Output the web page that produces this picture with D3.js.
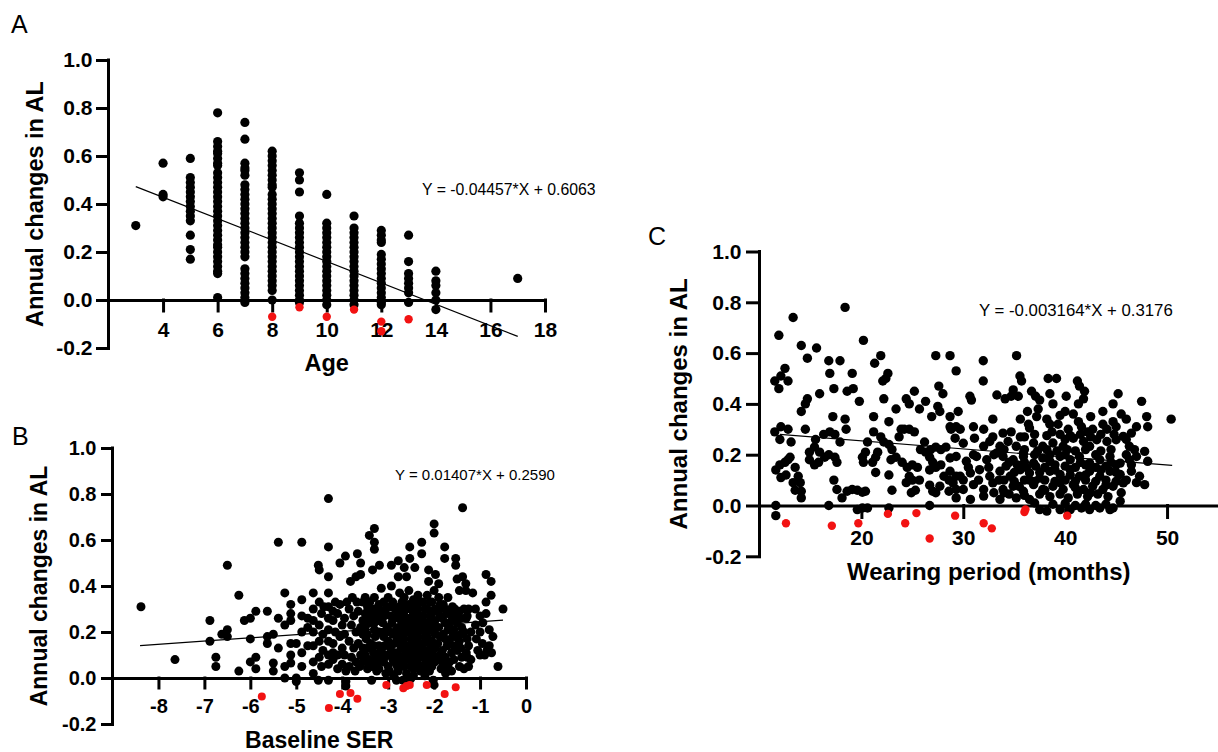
<!DOCTYPE html>
<meta charset="utf-8">
<style>
  body { margin: 0; background: #fff; }
  svg text { font-family: "Liberation Sans", Arial, sans-serif; fill: #000; }
  .axis path, .axis line { stroke: #000; stroke-width: 3; stroke-linecap: square; }
  .axis text { font-weight: bold; }
</style>
<script src="https://cdn.jsdelivr.net/npm/d3@7"></script>
<body>
<svg id="fig" width="1218" height="752"></svg>
<script>
// ---------- data ----------
const yTickValues = [-0.2, 0, 0.2, 0.4, 0.6, 0.8, 1.0];

// panel A: annual AL change stacked by age
const ageColumns = [
  [3, [0.31]],
  [4, [0.57, 0.44, 0.43]],
  [5, [0.59, 0.51, 0.49, 0.47, 0.45, 0.43, 0.41, 0.39, 0.37, 0.35, 0.33, 0.27, 0.21, 0.17]],
  [6, [0.78, 0.66, 0.64, 0.62, 0.61, 0.59, 0.57, 0.56, 0.53, 0.51, 0.49, 0.47, 0.45, 0.43, 0.41, 0.39, 0.37, 0.35,
       0.33, 0.31, 0.29, 0.27, 0.25, 0.23, 0.22, 0.20, 0.18, 0.16, 0.14, 0.12, 0.11, 0.01]],
  [7, [0.74, 0.67, 0.57, 0.55, 0.54, 0.52, 0.48, 0.46, 0.44, 0.42, 0.40, 0.38, 0.36, 0.34, 0.32, 0.30, 0.28, 0.26,
       0.24, 0.22, 0.20, 0.18, 0.13, 0.11, 0.09, 0.07, 0.05, 0.03, 0.01, -0.01]],
  [8, [0.62, 0.60, 0.58, 0.56, 0.54, 0.52, 0.50, 0.48, 0.47, 0.44, 0.42, 0.40, 0.38, 0.36, 0.34, 0.32, 0.30, 0.28,
       0.26, 0.24, 0.22, 0.20, 0.18, 0.16, 0.14, 0.12, 0.10, 0.08, 0.06, 0.04, 0.00]],
  [9, [0.53, 0.50, 0.45, 0.35, 0.32, 0.30, 0.28, 0.26, 0.24, 0.22, 0.20, 0.18, 0.16, 0.14, 0.12, 0.10, 0.08, 0.06,
       0.04, 0.02, 0.00, -0.01]],
  [10, [0.44, 0.32, 0.30, 0.28, 0.26, 0.24, 0.22, 0.20, 0.18, 0.16, 0.14, 0.12, 0.10, 0.08, 0.06, 0.04, 0.02, 0.00, -0.02]],
  [11, [0.35, 0.30, 0.28, 0.26, 0.24, 0.22, 0.20, 0.18, 0.16, 0.14, 0.12, 0.10, 0.08, 0.06, 0.04, 0.02, 0.00, -0.02]],
  [12, [0.29, 0.27, 0.25, 0.24, 0.19, 0.17, 0.15, 0.13, 0.11, 0.09, 0.07, 0.05, 0.03, 0.01, -0.01, -0.02]],
  [13, [0.27, 0.16, 0.11, 0.09, 0.07, 0.05, 0.03, -0.01]],
  [14, [0.12, 0.08, 0.06, 0.03, 0.00, -0.04]],
  [17, [0.09]]
];
const ageRed = [[8, -0.07], [9, -0.03], [10, -0.07], [11, -0.04], [12, -0.09], [12, -0.13], [13, -0.08]];

// panel B: baseline SER vs annual AL change
const serBlack = [
  [-8.38,0.31],[-7.64,0.08],[-6.88,0.25],[-6.88,0.16],[-6.75,0.09],[-6.75,0.05],[-6.5,0.49],[-6.62,0.19],[-6.5,0.21],
  [-6.5,0.18],[-6.25,0.36],[-6.25,0.03],[-6.13,0.25],[-6.0,0.26],[-5.88,0.29],[-6.0,0.17],[-6.0,0.07],[-5.88,0.09],
  [-5.88,0.04],[-5.63,0.29],[-5.39,0.59],[-4.88,0.59],[-5.25,0.37],[-5.63,0.18],[-5.63,0.15],[-5.5,0.19],[-5.39,0.13],
  [-5.5,0.065],[-5.5,0.03],[-5.25,0.05],[-5.25,0.0],[-5.39,0.26],[-5.25,0.23],[-5.12,0.32],[-5.12,0.28],[-5.12,0.25],
  [-5.12,0.15],[-5.12,0.10],[-5.12,0.065],[-5.0,0.15],[-5.0,0.0],[-5.0,-0.015],[-4.88,0.34],[-4.88,0.27],[-4.88,0.2],
  [-4.88,0.11],[-4.88,0.05],[-4.75,0.26],[-4.75,0.22],[-4.75,0.14],[-4.63,0.37],[-4.63,0.30],[-4.63,0.25],[-4.63,0.20],
  [-4.63,0.14],[-4.63,0.07],[-4.63,0.02],[-4.52,0.49],[-4.5,0.47],[-4.5,0.33],[-4.45,0.28],[-4.5,0.23],[-4.42,0.19],
  [-4.5,0.16],[-4.42,0.12],[-4.5,0.09],[-4.45,0.05],[-4.52,-0.01],[-4.3,0.78],[-4.3,0.57],[-4.3,0.44],[-4.3,0.37],
  [-4.3,0.31],[-4.3,0.26],[-4.3,0.21],[-4.3,0.16],[-4.3,0.10],[-4.3,0.06],[-4.3,-0.01],
  [-4.05,0.50],[-3.93,0.53],[-4.15,0.33],[-4.05,0.32],[-4.1,0.28],[-4.2,0.25],[-4.0,0.23],[-4.15,0.2],[-4.05,0.18],
  [-4.2,0.15],[-4.0,0.13],[-4.1,0.1],[-4.2,0.08],[-4.0,0.06],[-3.92,0.03],[-4.1,0.04],[-3.92,-0.015],[-3.92,-0.035],
  [-3.82,0.42],[-3.7,0.44],[-3.6,0.45],[-3.67,0.54],[-3.6,0.50],[-3.85,0.30],[-3.75,0.27],[-3.65,0.29],[-3.8,0.23],
  [-3.7,0.2],[-3.6,0.22],[-3.85,0.16],[-3.75,0.13],[-3.65,0.15],[-3.8,0.09],[-3.7,0.07],[-3.6,0.1],[-3.85,0.05],
  [-3.72,0.03],[-3.62,0.05],
  [-3.41,0.62],[-3.3,0.65],[-3.3,0.59],[-3.3,0.56],[-3.34,0.47],[-3.19,0.49],[-3.5,0.35],[-3.4,0.33],[-3.3,0.35],
  [-3.2,0.32],[-3.5,0.28],[-3.42,0.3],[-3.35,0.27],[-3.25,0.29],[-3.5,0.22],[-3.4,0.24],[-3.3,0.21],[-3.22,0.25],
  [-3.48,0.17],[-3.38,0.15],[-3.28,0.18],[-3.2,0.14],[-3.5,0.1],[-3.42,0.08],[-3.32,0.11],[-3.22,0.07],[-3.45,0.04],
  [-3.35,0.05],[-3.25,0.03],[-3.36,-0.01],
  [-3.15,0.39],[-2.93,0.49],[-2.78,0.51],[-2.93,0.40],[-3.1,0.33],[-3.0,0.35],[-2.9,0.33],[-3.15,0.29],[-3.05,0.3],
  [-2.95,0.27],[-2.85,0.3],[-3.12,0.24],[-3.02,0.22],[-2.92,0.24],[-2.82,0.21],[-3.1,0.18],[-3.0,0.16],[-2.9,0.19],
  [-2.8,0.17],[-3.15,0.12],[-3.05,0.1],[-2.95,0.13],[-2.85,0.11],[-3.1,0.07],[-3.0,0.05],[-2.9,0.08],[-2.8,0.05],
  [-3.05,0.02],[-2.88,0.01],[-2.82,-0.01],
  [-2.65,0.48],[-2.6,0.44],[-2.78,0.44],[-2.53,0.57],[-2.53,0.52],[-2.42,0.48],[-2.75,0.37],[-2.65,0.35],[-2.55,0.38],
  [-2.45,0.34],[-2.75,0.31],[-2.65,0.29],[-2.55,0.32],[-2.45,0.28],[-2.72,0.25],[-2.62,0.23],[-2.52,0.26],[-2.42,0.22],
  [-2.75,0.19],[-2.65,0.17],[-2.55,0.2],[-2.45,0.16],[-2.72,0.13],[-2.62,0.11],[-2.52,0.14],[-2.42,0.1],[-2.75,0.07],
  [-2.65,0.05],[-2.55,0.08],[-2.45,0.04],[-2.6,0.02],[-2.5,0.0],[-2.68,-0.01],[-2.55,-0.02],[-2.45,0.01],
  [-2.27,0.59],[-2.27,0.54],[-2.12,0.47],[-2.12,0.42],[-2.0,0.38],[-2.0,0.67],[-2.0,0.63],[-2.35,0.36],[-2.25,0.33],
  [-2.15,0.36],[-2.05,0.33],[-2.35,0.3],[-2.25,0.27],[-2.15,0.3],[-2.05,0.28],[-2.32,0.24],[-2.22,0.21],[-2.12,0.24],
  [-2.02,0.22],[-2.35,0.18],[-2.25,0.15],[-2.15,0.18],[-2.05,0.16],[-2.32,0.12],[-2.22,0.09],[-2.12,0.12],[-2.02,0.1],
  [-2.35,0.06],[-2.25,0.04],[-2.15,0.07],[-2.05,0.05],[-2.2,0.01],[-2.02,-0.01],[-2.0,-0.03],
  [-1.97,0.45],[-1.9,0.41],[-1.77,0.57],[-1.77,0.52],[-1.9,0.35],[-1.8,0.32],[-1.7,0.35],[-1.6,0.31],[-1.92,0.29],
  [-1.82,0.26],[-1.72,0.28],[-1.62,0.25],[-1.9,0.22],[-1.8,0.19],[-1.7,0.21],[-1.6,0.18],[-1.92,0.15],[-1.82,0.12],
  [-1.72,0.14],[-1.62,0.11],[-1.9,0.08],[-1.8,0.06],[-1.7,0.05],[-1.62,0.03],[-1.75,0.02],[-1.85,0.04],
  [-1.53,0.52],[-1.53,0.49],[-1.38,0.74],[-1.38,0.44],[-1.31,0.41],[-1.31,0.38],[-1.16,0.37],[-1.5,0.43],[-1.45,0.38],
  [-1.55,0.3],[-1.45,0.29],[-1.35,0.3],[-1.25,0.3],[-1.5,0.24],[-1.4,0.22],[-1.3,0.26],[-1.2,0.2],[-1.55,0.18],
  [-1.45,0.16],[-1.35,0.2],[-1.25,0.14],[-1.5,0.12],[-1.4,0.09],[-1.3,0.11],[-1.2,0.08],[-1.45,0.05],[-1.35,0.04],
  [-1.25,0.05],
  [-0.87,0.45],[-0.76,0.42],[-0.76,0.36],[-0.5,0.30],[-0.87,0.33],[-0.87,0.28],[-0.94,0.24],[-0.8,0.21],[-0.72,0.18],
  [-0.61,0.05],[-1.1,0.3],[-1.0,0.27],[-1.1,0.23],[-1.0,0.2],[-1.08,0.17],[-0.95,0.15],[-1.05,0.12],[-0.85,0.12],
  [-0.8,0.14],[-1.0,0.1],[-0.9,0.1],[-0.75,0.11],
  [-3.95,0.26],[-3.95,0.19],[-3.95,0.1],[-3.55,0.33],[-3.55,0.25],[-3.55,0.19],[-3.55,0.13],[-3.55,0.07],
  [-3.45,0.31],[-3.45,0.25],[-3.45,0.19],[-3.45,0.13],[-3.45,0.07],[-3.3,0.3],[-3.3,0.24],[-3.3,0.14],[-3.3,0.08],
  [-3.2,0.27],[-3.2,0.2],[-3.2,0.1],[-3.2,0.04],[-3.08,0.27],[-3.08,0.2],[-3.08,0.14],[-3.08,0.09],
  [-2.97,0.31],[-2.97,0.2],[-2.97,0.1],[-2.97,0.03],[-2.87,0.26],[-2.87,0.15],[-2.87,0.07],
  [-2.78,0.28],[-2.78,0.22],[-2.78,0.16],[-2.78,0.1],[-2.78,0.03],[-2.7,0.33],[-2.7,0.27],[-2.7,0.21],[-2.7,0.15],
  [-2.7,0.09],[-2.6,0.3],[-2.6,0.26],[-2.6,0.2],[-2.6,0.14],[-2.6,0.08],[-2.5,0.3],[-2.5,0.23],[-2.5,0.17],[-2.5,0.11],
  [-2.5,0.05],[-2.4,0.31],[-2.4,0.25],[-2.4,0.19],[-2.4,0.13],[-2.4,0.07],[-2.3,0.33],[-2.3,0.27],[-2.3,0.21],
  [-2.3,0.15],[-2.3,0.09],[-2.3,0.03],[-2.2,0.3],[-2.2,0.24],[-2.2,0.18],[-2.2,0.12],[-2.2,0.06],[-2.1,0.33],
  [-2.1,0.27],[-2.1,0.21],[-2.1,0.15],[-2.1,0.09],[-2.1,0.03],[-1.98,0.3],[-1.98,0.25],[-1.98,0.19],[-1.98,0.13],
  [-1.98,0.07],[-1.87,0.32],[-1.87,0.27],[-1.87,0.18],[-1.87,0.1],[-1.76,0.3],[-1.76,0.24],[-1.76,0.17],[-1.76,0.09],
  [-1.66,0.28],[-1.66,0.22],[-1.66,0.15],[-1.66,0.07],[-1.57,0.27],[-1.57,0.21],[-1.57,0.14],[-1.57,0.08],
  [-1.42,0.26],[-1.42,0.19],[-1.42,0.13],[-1.28,0.27],[-1.28,0.17],[-1.28,0.09],
  [-4.4,0.31],[-4.2,0.29],[-4.2,0.11],[-3.78,0.35],[-3.68,0.33],[-3.9,0.33]
];
const serRed = [[-5.75,-0.08],[-4.29,-0.13],[-4.05,-0.07],[-3.82,-0.065],[-3.67,-0.09],[-3.04,-0.03],[-2.67,-0.045],
  [-2.6,-0.035],[-2.53,-0.03],[-2.16,-0.03],[-1.77,-0.07],[-1.53,-0.04]];

// panel C: wearing period (months) vs annual AL change
const wearBlack = [
  [13.3,0.74],[18.4,0.78],[11.9,0.67],[20.2,0.65],[14.1,0.63],[15.6,0.62],[14.7,0.58],[16.8,0.57],[17.9,0.57],
  [16.9,0.52],[19.1,0.52],[21.9,0.59],[21.3,0.56],[22.6,0.52],[22.4,0.50],[22.1,0.49],[12.5,0.54],[12.1,0.51],
  [12.8,0.49],[11.5,0.49],[11.9,0.46],[17.3,0.46],[18.6,0.45],[19.2,0.46],[15.9,0.44],[14.5,0.40],[14.7,0.42],
  [14.1,0.37],[19.8,0.41],[27.3,0.59],[28.7,0.59],[29.3,0.53],[27.6,0.47],[28.0,0.44],[27.5,0.39],[26.9,0.35],
  [22.2,0.42],[23.4,0.38],[24.4,0.42],[24.7,0.40],[25.2,0.45],[25.7,0.38],[26.3,0.41],[17.2,0.35],[18.4,0.34],
  [21.2,0.35],[22.7,0.33],[27.7,0.37],
  [11.5,0.29],[12.1,0.31],[12.8,0.30],[12.0,0.26],[13.1,0.25],[14.5,0.30],[15.5,0.26],[16.3,0.28],[16.9,0.29],
  [17.4,0.28],[17.9,0.25],[18.5,0.30],[20.6,0.25],[20.4,0.21],[20.1,0.19],[20.2,0.17],[21.2,0.29],[21.9,0.27],
  [22.2,0.25],[22.7,0.24],[23.0,0.22],[21.4,0.19],[21.4,0.13],[21.1,0.17],[21.6,0.21],[23.7,0.27],[23.9,0.30],
  [24.2,0.30],[24.7,0.30],[25.2,0.29],[22.9,0.18],[23.4,0.19],[24.0,0.17],[24.5,0.15],[25.0,0.16],[25.5,0.15],
  [24.7,0.115],[24.4,0.09],[25.0,0.10],[25.7,0.10],[25.3,0.06],[24.9,0.05],[22.7,0.12],[23.0,0.06],
  [25.8,0.22],[26.2,0.25],[26.3,0.21],[26.7,0.19],[26.8,0.22],[27.0,0.17],[27.3,0.23],[27.8,0.22],[28.3,0.23],
  [28.8,0.30],[29.3,0.31],[26.7,0.14],[27.3,0.15],[27.8,0.16],[28.1,0.115],[28.6,0.10],[29.3,0.115],[26.7,0.08],
  [27.0,0.056],[27.3,0.05],[27.7,0.076],[28.6,0.056],[29.3,0.063],[26.7,0.0],
  [11.6,0.14],[12.0,0.16],[12.5,0.17],[12.8,0.18],[13.0,0.19],[12.1,0.11],[12.6,0.12],[13.5,0.15],[13.8,0.115],
  [13.3,0.09],[14.0,0.09],[13.5,0.06],[14.1,0.056],[14.1,0.03],[14.9,0.21],[15.4,0.23],[15.9,0.21],[16.4,0.19],
  [17.4,0.19],[17.6,0.17],[14.9,0.18],[15.8,0.17],[15.4,0.16],[16.8,0.20],[17.3,0.10],[17.6,0.063],[18.1,0.03],
  [18.6,0.056],[19.1,0.063],[19.6,0.06],[20.1,0.052],[20.4,0.056],
  [11.6,0.0],[11.6,-0.04],[16.8,0.0],[19.6,-0.016],[20.1,-0.01],[20.6,-0.01],[22.7,-0.01],
  [31.96,0.57],[35.23,0.59],[31.96,0.49],[35.56,0.51],[35.72,0.49],[38.33,0.50],[39.15,0.50],[41.2,0.49],[41.4,0.47],
  [41.9,0.45],[41.8,0.42],[45.2,0.44],[44.7,0.40],[47.5,0.41],[50.4,0.34],[48.0,0.35],[48.1,0.31],[30.65,0.43],
  [30.8,0.415],[33.3,0.435],[34.1,0.42],[34.9,0.455],[34.7,0.43],[35.4,0.43],[36.7,0.45],[37.1,0.43],[37.5,0.415],
  [37.35,0.38],[38.5,0.44],[38.8,0.40],[40.1,0.43],[40.0,0.37],[40.8,0.36],[41.3,0.40],[29.5,0.37],[28.7,0.35],
  [32.9,0.34],[35.6,0.34],[36.4,0.32],[37.2,0.35],[38.2,0.34],[38.5,0.32],[39.3,0.32],[40.3,0.30],[41.3,0.33],
  [41.6,0.31],[42.7,0.30],[43.7,0.32],[44.1,0.30],[44.7,0.33],[45.0,0.31],[46.0,0.34],[47.0,0.31],[46.5,0.285],
  [28.7,0.31],[29.7,0.30],[31.0,0.31],[32.0,0.30],[32.9,0.27],[33.9,0.285],[34.7,0.29],[35.6,0.27],[36.5,0.305],
  [29.2,0.265],[30.0,0.245],[31.1,0.265],[32.0,0.233],[32.6,0.252],[33.6,0.233],[34.4,0.252],[35.2,0.233],[35.9,0.207],
  [36.9,0.246],[37.8,0.233],[38.8,0.246],[39.8,0.233],[40.8,0.265],[41.8,0.252],[42.4,0.233],[43.1,0.259],[44.1,0.252],
  [45.0,0.259],[45.7,0.272],[46.3,0.233],[46.8,0.22],[47.8,0.213],[48.1,0.174],
  [28.7,0.187],[29.3,0.193],[30.3,0.174],[31.3,0.193],[32.3,0.18],[33.3,0.207],[33.9,0.193],[34.9,0.18],[35.9,0.193],
  [36.9,0.167],[37.8,0.187],[38.5,0.174],[39.5,0.193],[40.5,0.18],[41.4,0.193],[42.4,0.167],[43.4,0.18],[44.4,0.193],
  [45.4,0.167],[46.3,0.18],[47.0,0.193],
  [28.7,0.135],[29.7,0.115],[30.7,0.128],[31.6,0.141],[32.6,0.115],[33.6,0.135],[34.6,0.115],[35.6,0.141],[36.5,0.128],
  [37.5,0.108],[38.5,0.135],[39.5,0.122],[40.5,0.141],[41.4,0.115],[42.4,0.135],[43.4,0.115],[44.4,0.135],[45.4,0.122],
  [46.5,0.135],[47.3,0.115],
  [29.0,0.089],[30.0,0.063],[31.0,0.082],[32.0,0.063],[32.9,0.089],[33.9,0.063],[34.9,0.076],[35.9,0.056],[36.9,0.082],
  [37.8,0.063],[38.8,0.076],[39.8,0.063],[40.8,0.082],[41.8,0.063],[42.7,0.076],[43.7,0.063],[44.7,0.076],[45.7,0.089],
  [47.8,0.082],
  [29.3,0.03],[30.7,0.024],[32.0,0.037],[33.6,0.024],[35.2,0.03],[36.5,0.024],[37.5,-0.016],[38.2,-0.022],[39.5,-0.016],
  [40.5,-0.016],[41.6,-0.01],[42.4,-0.016],[43.4,-0.01],[44.4,-0.016],[44.7,-0.01],[45.4,0.017],
  [34.2,0.155],[35.3,0.16],[36.2,0.15],[37.1,0.155],[38.0,0.15],[39.0,0.16],[40.0,0.155],[41.0,0.15],[42.0,0.16],
  [43.0,0.15],[44.0,0.155],[45.0,0.16],
  [34.0,0.10],[35.0,0.095],[36.0,0.10],[37.0,0.095],[38.0,0.10],[39.0,0.095],[40.0,0.10],[41.0,0.095],[42.0,0.10],
  [43.0,0.095],[44.0,0.10],[45.0,0.095],[46.0,0.10],
  [34.5,0.045],[36.0,0.04],[37.5,0.045],[38.5,0.035],[39.5,0.045],[40.3,0.03],[41.2,0.045],[42.2,0.035],[43.2,0.045],
  [44.2,0.035],[37.0,0.01],[38.8,0.005],[40.0,0.008],[41.0,0.0],[42.0,0.005],[43.0,0.0],[44.0,0.005],
  [36.0,0.22],[37.3,0.215],[38.2,0.22],[39.2,0.215],[40.2,0.22],[41.0,0.215],[42.0,0.22],[43.5,0.215],[44.5,0.22],
  [37.0,0.28],[38.2,0.275],[39.5,0.28],[40.5,0.275],[41.5,0.28],[42.5,0.27],[43.5,0.28],
  [33.0,0.2],[34.0,0.22],[34.5,0.17],[35.0,0.13],[35.5,0.075],[36.0,0.17],[36.5,0.1],[37.0,0.2],[37.5,0.13],
  [38.0,0.06],[38.5,0.2],[39.0,0.14],[39.5,0.09],[40.0,0.2],[40.5,0.12],[41.0,0.07],[41.5,0.17],[42.0,0.12],
  [42.5,0.05],[43.0,0.2],[43.5,0.14],[44.0,0.08],[44.5,0.17],[45.0,0.13],[45.5,0.05],[46.0,0.2],[46.5,0.16],
  [47.0,0.09],[33.5,0.1],[34.0,0.05],[32.5,0.15],[31.5,0.1],[31.0,0.2],[30.5,0.15],[30.0,0.1],[33.0,0.05],
  [36.0,0.27],[38.7,0.29],[40.0,0.26],[42.2,0.29],[44.8,0.28],[46.0,0.26],[39.5,0.355],[42.5,0.35],[43.7,0.37],
  [45.5,0.36],[36.3,0.37]
];
const wearRed = [[12.6,-0.07],[17.1,-0.08],[19.7,-0.07],[22.6,-0.033],[24.3,-0.07],[25.4,-0.03],[26.7,-0.13],
  [29.2,-0.04],[32.0,-0.07],[32.8,-0.09],[36.0,-0.026],[36.1,-0.016],[40.2,-0.04]];

// fitted lines: slope, intercept, x from, x to
const fitA = [-0.04457, 0.6063, 3, 17];
const fitB = [0.01407, 0.2590, -8.4, -0.5];
const fitC = [-0.003164, 0.3176, 12, 50.5];

const ageTicks = [4, 6, 8, 10, 12, 14, 16, 18];
const serTicks = [-8, -7, -6, -5, -4, -3, -2, -1, 0];
const wearTicks = [20, 30, 40, 50];

// ---------- drawing ----------
const svg = d3.select("#fig");
const yLabel = "Annual changes in AL";

function drawPanel(p) {
  const g = svg.append("g");
  const x = d3.scaleLinear().domain(p.xDomain).range(p.xRange);
  const y = d3.scaleLinear().domain([-0.2, 1.0]).range(p.yRange);

  g.append("g").selectAll("circle")
    .data(p.black).join("circle")
    .attr("cx", d => x(d[0])).attr("cy", d => y(d[1]))
    .attr("r", p.r).attr("fill", "#000");

  const fx = [p.fit[2], p.fit[3]];
  g.append("path")
    .attr("d", d3.line()(fx.map(v => [x(v), y(p.fit[0] * v + p.fit[1])])))
    .attr("stroke", "#000").attr("stroke-width", 1.2).attr("fill", "none");

  const ya = g.append("g").attr("class", "axis")
    .attr("transform", `translate(${p.xRange[0]},0)`)
    .call(d3.axisLeft(y).tickValues(yTickValues).tickFormat(d => d.toFixed(1))
      .tickSize(p.tick).tickSizeOuter(0).tickPadding(p.yPad));
  ya.selectAll("text").style("font-size", p.tickFont + "px");
  ya.select(".domain").remove();

  const xa = g.append("g").attr("class", "axis")
    .attr("transform", `translate(0,${y(0)})`)
    .call(d3.axisBottom(x).tickValues(p.xTicks).tickFormat(d => String(d))
      .tickSize(p.tick).tickSizeOuter(0).tickPadding(p.xPad));
  xa.selectAll("text").style("font-size", p.tickFont + "px");

  g.append("line").attr("x1", p.xRange[0]).attr("x2", p.xRange[0])
    .attr("y1", p.yRange[1]).attr("y2", p.yRange[0])
    .attr("stroke", "#000").attr("stroke-width", 3).attr("stroke-linecap", "square");

  g.append("g").selectAll("circle")
    .data(p.red).join("circle")
    .attr("cx", d => x(d[0])).attr("cy", d => y(d[1]))
    .attr("r", p.rRed).attr("fill", "#f21212");

  g.append("text")
    .attr("transform", `translate(${p.yTitleX},${(p.yRange[0] + p.yRange[1]) / 2}) rotate(-90)`)
    .attr("text-anchor", "middle")
    .style("font-weight", "bold").style("font-size", p.titleFont + "px")
    .text(yLabel);

  g.append("text")
    .attr("x", (p.xRange[0] + p.xTitleRight) / 2).attr("y", p.xTitleY)
    .attr("text-anchor", "middle")
    .style("font-weight", "bold").style("font-size", p.titleFont + "px")
    .text(p.xTitle);

  g.append("text")
    .attr("x", p.eqX).attr("y", p.eqY)
    .style("font-size", p.eqFont + "px")
    .text(p.eq);

  g.append("text")
    .attr("x", p.letterX).attr("y", p.letterY)
    .style("font-size", "25px")
    .text(p.letter);
}

const agePoints = ageColumns.flatMap(([a, vals]) => vals.map(v => [a, v]));

drawPanel({
  letter: "A", letterX: 11, letterY: 33,
  xDomain: [2, 18], xRange: [108.5, 545], yRange: [348, 60],
  xTicks: ageTicks, tick: 11, yPad: 5, xPad: 11, tickFont: 21, titleFont: 23.5,
  yTitleX: 43, xTitleY: 371, xTitle: "Age", xTitleRight: 545,
  eq: "Y = -0.04457*X + 0.6063", eqX: 422, eqY: 195, eqFont: 15.8,
  fit: fitA, black: agePoints, red: ageRed, r: 4.6, rRed: 4.2
});

drawPanel({
  letter: "B", letterX: 12, letterY: 445,
  xDomain: [-9, 0], xRange: [112.5, 526], yRange: [724, 448],
  xTicks: serTicks, tick: 10, yPad: 6, xPad: 10.8, tickFont: 20, titleFont: 23,
  yTitleX: 47, xTitleY: 748, xTitle: "Baseline SER", xTitleRight: 526,
  eq: "Y = 0.01407*X + 0.2590", eqX: 395, eqY: 480, eqFont: 15,
  fit: fitB, black: serBlack, red: serRed, r: 4.5, rRed: 4.0
});

drawPanel({
  letter: "C", letterX: 648, letterY: 245,
  xDomain: [10, 55], xRange: [759.5, 1218], yRange: [556.3, 251.5],
  xTicks: wearTicks, tick: 12, yPad: 6, xPad: 12.6, tickFont: 21, titleFont: 24,
  yTitleX: 687, xTitleY: 580, xTitle: "Wearing period (months)", xTitleRight: 1218,
  eq: "Y = -0.003164*X + 0.3176", eqX: 979, eqY: 316, eqFont: 16.8,
  fit: fitC, black: wearBlack, red: wearRed, r: 4.7, rRed: 4.2
});
</script>
</body>
